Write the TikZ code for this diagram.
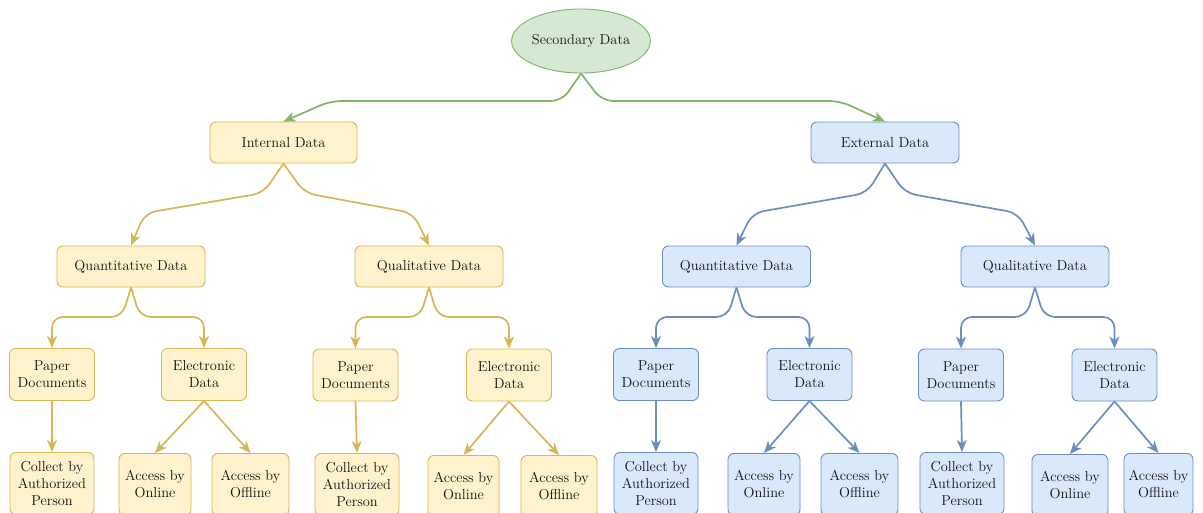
\documentclass[tikz,border=0pt]{standalone}
\usetikzlibrary{shapes.geometric,arrows.meta}

\definecolor{grnfill}{HTML}{D5E8D4}
\definecolor{grnline}{HTML}{82B366}
\definecolor{ylwfill}{HTML}{FFF2CC}
\definecolor{ylwline}{HTML}{D6B656}
\definecolor{bluefill}{HTML}{DAE8FC}
\definecolor{blueline}{HTML}{6C8EBF}
\definecolor{ink}{HTML}{111111}

\begin{document}
\begin{tikzpicture}[x=1pt,y=-1pt,
  every node/.style={font=\fontsize{14.4}{17}\selectfont, align=center,
    inner sep=0pt, text=ink},
  box/.style={draw, rounded corners=6pt, line width=0.9pt},
  ybox/.style={box, draw=ylwline, fill=ylwfill},
  bbox/.style={box, draw=blueline, fill=bluefill},
  midbox/.style={minimum width=148pt, minimum height=41pt},
  pairbox/.style={minimum width=85pt, minimum height=52pt},
  leafbox/.style={anchor=north, minimum height=62pt},
  link/.style={line width=1.7pt, rounded corners=11pt,
    -{Stealth[length=12pt,width=10pt,inset=3.5pt]}},
  glink/.style={link, draw=grnline},
  ylink/.style={link, draw=ylwline},
  blink/.style={link, draw=blueline},
]
\useasboundingbox (0,0) rectangle (1203,512);
\clip (0,0) rectangle (1203,512);

% levels of the horizontal runs of the elbow connectors
\coordinate (lvA) at (0,101);
\coordinate (lvB) at (0,213);
\coordinate (lvC) at (0,317);

% root
\node[ellipse, draw=grnline, fill=grnfill, line width=0.9pt,
  minimum width=128pt, minimum height=64pt] (root) at (581,41) {Secondary Data};

% second level
\node[ybox, midbox, minimum width=147pt] (int) at (283.5,142.5) {Internal Data};
\node[bbox, midbox] (ext) at (885,142.5) {External Data};

% third level
\node[ybox, midbox] (qa1) at (131,266.5) {Quantitative Data};
\node[ybox, midbox] (ql1) at (429,266.5) {Qualitative Data};
\node[bbox, midbox] (qa2) at (736.5,266.5) {Quantitative Data};
\node[bbox, midbox] (ql2) at (1035,266.5) {Qualitative Data};

% fourth level
\node[ybox, pairbox] (p1) at (52,374.5) {Paper\\Documents};
\node[ybox, pairbox] (e1) at (204,374.5) {Electronic\\Data};
\node[ybox, pairbox] (p2) at (355.5,375) {Paper\\Documents};
\node[ybox, pairbox] (e2) at (509,375) {Electronic\\Data};
\node[bbox, pairbox] (p3) at (656,374.5) {Paper\\Documents};
\node[bbox, pairbox] (e3) at (809.5,374.5) {Electronic\\Data};
\node[bbox, pairbox] (p4) at (961,375) {Paper\\Documents};
\node[bbox, pairbox] (e4) at (1114.5,375) {Electronic\\Data};

% leaves
\node[ybox, leafbox, minimum width=84pt] (c1) at (52,452) {Collect by\\Authorized\\Person};
\node[ybox, leafbox, minimum width=72pt] (on1) at (155,453) {Access by\\Online};
\node[ybox, leafbox, minimum width=77pt] (of1) at (250.5,453) {Access by\\Offline};
\node[ybox, leafbox, minimum width=84pt] (c2) at (357,453) {Collect by\\Authorized\\Person};
\node[ybox, leafbox, minimum width=71pt] (on2) at (463.5,455) {Access by\\Online};
\node[ybox, leafbox, minimum width=76pt] (of2) at (559,455) {Access by\\Offline};
\node[bbox, leafbox, minimum width=84pt] (c3) at (656,452) {Collect by\\Authorized\\Person};
\node[bbox, leafbox, minimum width=72pt] (on3) at (764,453) {Access by\\Online};
\node[bbox, leafbox, minimum width=77pt] (of3) at (859.5,453) {Access by\\Offline};
\node[bbox, leafbox, minimum width=84pt] (c4) at (962,452) {Collect by\\Authorized\\Person};
\node[bbox, leafbox, minimum width=76pt] (on4) at (1070,454) {Access by\\Online};
\node[bbox, leafbox, minimum width=69pt] (of4) at (1158.5,453) {Access by\\Offline};

% root to second level
\draw[glink] (root.south) -- ([xshift=-19pt]root.south |- lvA)
  -- ([xshift=47pt]int.north |- lvA) -- (int.north);
\draw[glink] (root.south) -- ([xshift=21pt]root.south |- lvA)
  -- ([xshift=-45pt]ext.north |- lvA) -- (ext.north);

% second to third level
\draw[ylink] (int.south) -- ([xshift=-20pt]int.south |- 0,193)
  -- ([xshift=14pt]qa1.north |- lvB) -- (qa1.north);
\draw[ylink] (int.south) -- ([xshift=21pt]int.south |- 0,193)
  -- ([xshift=-16pt]ql1.north |- lvB) -- (ql1.north);
\draw[blink] (ext.south) -- ([xshift=-18pt]ext.south |- 0,193)
  -- ([xshift=16pt]qa2.north |- lvB) -- (qa2.north);
\draw[blink] (ext.south) -- ([xshift=20pt]ext.south |- 0,193)
  -- ([xshift=-17pt]ql2.north |- lvB) -- (ql2.north);

% third to fourth level
\foreach \q/\p/\e/\s in {qa1/p1/e1/ylink, ql1/p2/e2/ylink, qa2/p3/e3/blink, ql2/p4/e4/blink}{
  \draw[\s] (\q.south) -- ([xshift=-9pt]\q.south |- lvC)
    -- (\p.north |- lvC) -- (\p.north);
  \draw[\s] (\q.south) -- ([xshift=9pt]\q.south |- lvC)
    -- (\e.north |- lvC) -- (\e.north);
}

% fourth level to leaves
\foreach \p/\e/\c/\n/\f/\s in {p1/e1/c1/on1/of1/ylink, p2/e2/c2/on2/of2/ylink,
    p3/e3/c3/on3/of3/blink, p4/e4/c4/on4/of4/blink}{
  \draw[\s] (\p.south) -- (\c.north);
  \draw[\s] (\e.south) -- (\n.north);
  \draw[\s] (\e.south) -- (\f.north);
}
\end{tikzpicture}
\end{document}
